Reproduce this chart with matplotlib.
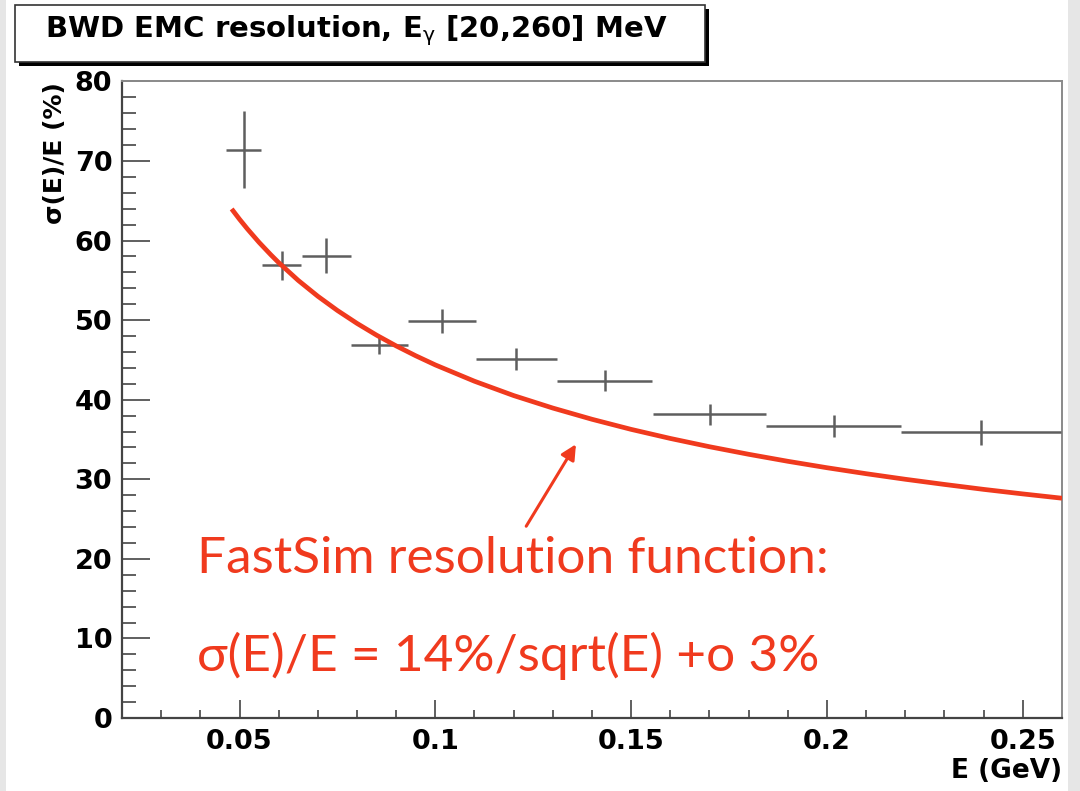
import matplotlib
matplotlib.use("Agg")
import matplotlib.pyplot as plt
from matplotlib.patches import Rectangle
from matplotlib.ticker import MultipleLocator


E_CENTER = [0.0511, 0.0608, 0.0722, 0.0857, 0.1017, 0.1207, 0.1432, 0.1701, 0.2017, 0.2394]
E_HALFWIDTH = [0.0045, 0.0050, 0.0062, 0.0072, 0.0087, 0.0103, 0.0121, 0.0144, 0.0172, 0.0204]
RES = [71.4, 56.9, 58.1, 46.9, 49.9, 45.1, 42.4, 38.2, 36.7, 35.9]
RES_ERR = [4.85, 1.84, 2.16, 1.2, 1.5, 1.42, 1.32, 1.32, 1.4, 1.57]

# FastSim resolution curve.
CURVE_E = [0.048, 0.050, 0.052, 0.055, 0.058, 0.060, 0.065, 0.070, 0.075, 0.080,
           0.085, 0.090, 0.095, 0.100, 0.110, 0.120, 0.130, 0.140, 0.150, 0.160,
           0.170, 0.180, 0.190, 0.200, 0.210, 0.220, 0.230, 0.240, 0.250, 0.260]
CURVE_RES = [63.97, 62.68, 61.47, 59.77, 58.21, 57.23, 54.99, 53.00, 51.21, 49.59,
             48.11, 46.76, 45.52, 44.37, 42.32, 40.52, 38.95, 37.54, 36.27, 35.13,
             34.09, 33.14, 32.26, 31.45, 30.70, 30.00, 29.35, 28.73, 28.16, 27.62]

TITLE = r"BWD EMC resolution, E$_{\mathrm{\gamma}}$ [20,260] MeV"
X_LABEL = "E (GeV)"
Y_LABEL = "σ(E)/E (%)"
NOTE_1 = "FastSim resolution function:"
NOTE_2 = "σ(E)/E = 14%/sqrt(E) +o 3%"

RED = "#f03a1e"
W, H = 1080, 791

plt.rcParams["mathtext.fontset"] = "custom"
plt.rcParams["mathtext.rm"] = "DejaVu Sans"

fig = plt.figure(figsize=(W / 100, H / 100), dpi=100)
fig.patch.set_facecolor("white")

# light grey slide edges
fig.add_artist(Rectangle((0, 0), 6 / W, 1, transform=fig.transFigure,
                         color="#e6e6e6", lw=0, zorder=0))
fig.add_artist(Rectangle((1068 / W, 0), 12 / W, 1, transform=fig.transFigure,
                         color="#e6e6e6", lw=0, zorder=0))

ax = fig.add_axes([122 / W, 1 - 718 / H, 940 / W, 636.6 / H])
ax.set_xlim(0.02, 0.26)
ax.set_ylim(0, 80)

ax.errorbar(E_CENTER, RES, xerr=E_HALFWIDTH, yerr=RES_ERR, fmt="none",
            ecolor="#5e5e5e", elinewidth=1.8, capsize=0, zorder=3)
ax.plot(CURVE_E, CURVE_RES, color=RED, lw=3.4, solid_capstyle="butt",
        solid_joinstyle="round", zorder=4)

# arrow + text in red
ax.annotate("", xy=(0.1359, 34.4), xytext=(0.1232, 24.1),
            arrowprops=dict(arrowstyle="-|>,head_length=0.9,head_width=0.45",
                            color=RED, lw=2.2, shrinkA=0, shrinkB=0))
ax.text(0.0391, 18.2, NOTE_1, color=RED, fontsize=37, va="baseline",
        family=["Lato", "DejaVu Sans"])
ax.text(0.0391, 5.9, NOTE_2, color=RED, fontsize=37, va="baseline",
        family=["Lato", "DejaVu Sans"])

# ROOT style axes
ax.xaxis.set_major_locator(MultipleLocator(0.05))
ax.xaxis.set_minor_locator(MultipleLocator(0.01))
ax.yaxis.set_major_locator(MultipleLocator(10))
ax.yaxis.set_minor_locator(MultipleLocator(2))
ax.set_xticks([0.05, 0.1, 0.15, 0.2, 0.25])
ax.set_xticklabels(["0.05", "0.1", "0.15", "0.2", "0.25"])
ax.tick_params(axis="both", which="both", direction="in", top=False, right=False,
               color="#444444", width=1.2)
ax.tick_params(axis="x", which="major", length=13, pad=8)
ax.tick_params(axis="x", which="minor", length=6)
ax.tick_params(axis="y", which="major", length=20, pad=7)
ax.tick_params(axis="y", which="minor", length=10)
for lab in ax.get_xticklabels() + ax.get_yticklabels():
    lab.set_fontweight("bold")
    lab.set_fontsize(19.5)
    lab.set_family("DejaVu Sans")

for side in ["left", "bottom"]:
    ax.spines[side].set_color("#444444")
    ax.spines[side].set_linewidth(1.6)
for side in ["top", "right"]:
    ax.spines[side].set_color("#8a8a8a")
    ax.spines[side].set_linewidth(1.4)

fig.text(1062 / W, 1 - 771 / H, X_LABEL, ha="right", va="center",
         fontsize=19, fontweight="bold")
fig.text(55 / W, 1 - 82 / H, Y_LABEL, ha="center", va="top", rotation=90,
         fontsize=18, fontweight="bold")

# title box with drop shadow
bx0, by0, bx1, by1 = 15, 5, 705, 62
fig.add_artist(Rectangle(((bx0 + 4) / W, 1 - (by1 + 4) / H), (bx1 - bx0) / W,
                         (by1 - by0) / H, transform=fig.transFigure,
                         facecolor="black", edgecolor="black", lw=0, zorder=5))
fig.add_artist(Rectangle((bx0 / W, 1 - by1 / H), (bx1 - bx0) / W, (by1 - by0) / H,
                         transform=fig.transFigure, facecolor="white",
                         edgecolor="#333333", lw=1.2, zorder=6))
fig.text(356 / W, 1 - 37 / H, TITLE, ha="center", va="baseline",
         fontsize=21, fontweight="bold", zorder=7)

fig.savefig("out.png", dpi=100)
